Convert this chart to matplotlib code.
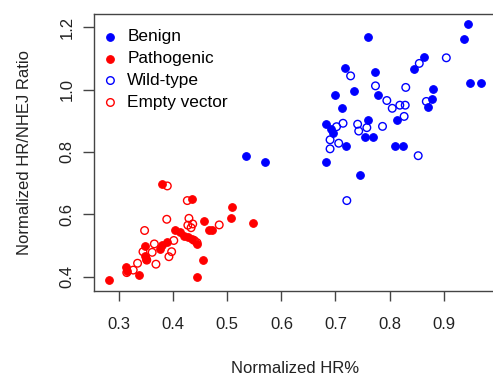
import matplotlib
matplotlib.use("Agg")
import matplotlib.pyplot as plt

plt.rcParams['font.family'] = ['Liberation Sans', 'DejaVu Sans']

# Benign variants (filled blue)
benign_x = [0.946, 0.938, 0.760, 0.949, 0.969, 0.864, 0.845, 0.717, 0.774, 0.735,
            0.779, 0.700, 0.880, 0.879, 0.872, 0.713, 0.760, 0.814, 0.683, 0.691,
            0.695, 0.755, 0.769, 0.719, 0.810, 0.824, 0.683, 0.745, 0.534, 0.570]
benign_y = [1.210, 1.163, 1.170, 1.022, 1.022, 1.106, 1.065, 1.070, 1.056, 0.994,
            0.982, 0.983, 1.001, 0.969, 0.943, 0.940, 0.901, 0.903, 0.889, 0.873,
            0.860, 0.849, 0.849, 0.820, 0.820, 0.820, 0.767, 0.727, 0.788, 0.767]

# Pathogenic variants (filled red)
patho_x = [0.282, 0.380, 0.434, 0.509, 0.506, 0.547, 0.457, 0.467, 0.472, 0.404,
           0.412, 0.419, 0.427, 0.434, 0.444, 0.389, 0.379, 0.375, 0.347, 0.347,
           0.350, 0.312, 0.314, 0.336, 0.444, 0.455]
patho_y = [0.389, 0.696, 0.648, 0.622, 0.587, 0.572, 0.580, 0.550, 0.550, 0.550,
           0.542, 0.530, 0.526, 0.520, 0.504, 0.510, 0.502, 0.488, 0.499, 0.467,
           0.456, 0.430, 0.419, 0.405, 0.400, 0.455]

# Wild-type controls (open blue)
wt_x = [0.905, 0.855, 0.728, 0.774, 0.830, 0.795, 0.868, 0.805, 0.819, 0.829,
        0.827, 0.714, 0.702, 0.741, 0.758, 0.743, 0.787, 0.690, 0.706, 0.690,
        0.853, 0.721]
wt_y = [1.102, 1.084, 1.044, 1.012, 1.007, 0.965, 0.962, 0.940, 0.950, 0.950,
        0.914, 0.892, 0.881, 0.889, 0.878, 0.867, 0.882, 0.839, 0.828, 0.810,
        0.788, 0.644]

# Empty vector controls (open red)
ev_x = [0.389, 0.426, 0.388, 0.429, 0.427, 0.436, 0.433, 0.485, 0.347, 0.401,
        0.439, 0.444, 0.365, 0.344, 0.361, 0.397, 0.392, 0.351, 0.334, 0.368,
        0.326, 0.314]
ev_y = [0.691, 0.644, 0.584, 0.587, 0.565, 0.569, 0.557, 0.566, 0.548, 0.516,
        0.516, 0.509, 0.505, 0.480, 0.478, 0.480, 0.464, 0.453, 0.443, 0.440,
        0.421, 0.413]

x_ticks = [0.3, 0.4, 0.5, 0.6, 0.7, 0.8, 0.9]
y_ticks = [0.4, 0.6, 0.8, 1.0, 1.2]

fig = plt.figure(figsize=(4.93, 3.76), dpi=100)
ax = fig.add_axes([0.1913, 0.2261, 0.816, 0.736])

ms = 30
ax.scatter(benign_x, benign_y, s=ms, c='#0000ff', edgecolors='#0000ff', linewidths=0.8, label='Benign')
ax.scatter(patho_x, patho_y, s=ms, c='#ff0000', edgecolors='#ff0000', linewidths=0.8, label='Pathogenic')
ax.scatter(wt_x, wt_y, s=ms, facecolors='none', edgecolors='#0000ff', linewidths=1.0, label='Wild-type')
ax.scatter(ev_x, ev_y, s=ms, facecolors='none', edgecolors='#ff0000', linewidths=1.0, label='Empty vector')

ax.set_xlim(0.254, 0.998)
ax.set_ylim(0.354, 1.2417)
ax.set_xticks(x_ticks)
ax.set_xticklabels([f"{v:.1f}" for v in x_ticks])
ax.set_yticks(y_ticks)
ax.set_yticklabels([f"{v:.1f}" for v in y_ticks], rotation=90, va='center')

for s in ax.spines.values():
    s.set_color('#444444')
    s.set_linewidth(1.0)

ax.tick_params(axis='x', length=7.5, width=1.0, color='#444444', pad=11, labelsize=12, labelcolor='#222222')
ax.tick_params(axis='y', length=8, width=1.0, color='#444444', pad=6, labelsize=12, labelcolor='#222222')

ax.set_xlabel('Normalized HR%', fontsize=12, color='#222222', labelpad=21)
ax.set_ylabel('Normalized HR/NHEJ Ratio', fontsize=12, color='#222222', labelpad=20)

ax.legend(loc='upper left', bbox_to_anchor=(0.009, 0.965), frameon=False, fontsize=12.4,
          handlelength=0.85, handletextpad=0.55, labelspacing=0.4, borderaxespad=0.0,
          borderpad=0.3, scatterpoints=1)

fig.savefig('out.png', dpi=100)
